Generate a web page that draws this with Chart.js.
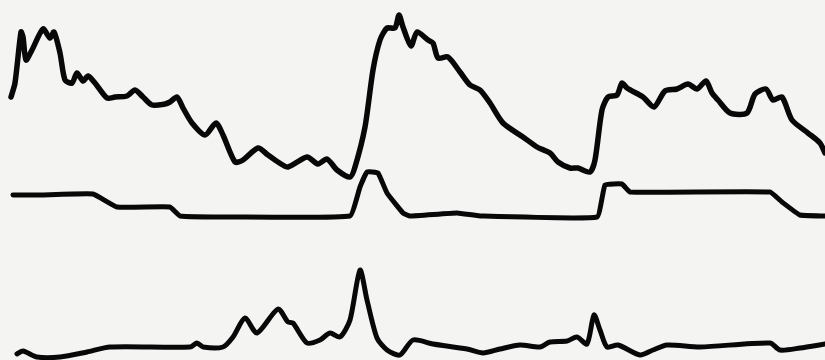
<!DOCTYPE html>
<html>
<head>
<meta charset="utf-8">
<script src="https://cdn.jsdelivr.net/npm/chart.js@4/dist/chart.umd.min.js"></script>
<style>
  html, body { margin: 0; padding: 0; background: #f4f4f3; }
  #wrap { width: 825px; height: 360px; }
</style>
</head>
<body>
<div id="wrap"><canvas id="c" width="825" height="360"></canvas></div>
<script>
// Trace positions along the strip (x) and deflection measured downward from the top edge (y)
const topX = [11,15,21,23,26,32,43,50,54,60,65,72,77,83,88,95,107,115,127,135,143,152,165,170,177,183,192,205,216,223,235,243,258,268,278,288,307,318,327,337,350,355,365,373,380,387,395,399,403,411,417,428,433,438,448,460,470,480,490,503,523,537,550,558,570,578,590,595,602,608,617,622,627,643,654,665,677,688,697,706,712,718,730,747,755,766,773,782,792,808,820,825];
const topY = [97,83,32,37,60,50,29,38,32,53,80,83,73,81,76,83,98,97,96,90,97,105,104,102,97,108,123,135,123,135,162,160,148,155,162,167,157,164,159,170,177,167,127,70,40,28,28,15,27,46,32,40,43,58,57,72,85,90,103,123,137,147,153,162,168,168,172,160,110,97,95,83,88,97,107,91,89,84,89,81,93,100,113,113,94,89,100,97,120,133,143,153];

const midX = [13,40,93,117,170,180,233,350,360,367,378,387,403,410,457,480,597,605,622,630,770,782,800,825];
const midY = [195,195,194,207,207,216,217,216,187,172,173,193,213,216,213,216,217,185,184,192,192,202,215,216];

const botX = [17,23,37,60,87,110,190,197,203,223,233,245,257,278,288,293,307,320,330,340,350,360,367,377,387,400,413,433,467,483,500,520,540,550,567,577,587,594,600,607,618,640,653,667,700,770,780,800,825];
const botY = [354,351,357,357,352,347,347,343,347,347,337,318,333,309,322,323,343,340,333,337,320,270,300,338,350,355,340,344,349,353,349,345,347,342,341,337,344,315,330,347,345,355,350,345,347,343,350,348,344];

function pts(xs, ys) { return xs.map((x, i) => ({ x: x, y: ys[i] })); }

const lineStyle = {
  borderColor: '#080808',
  borderJoinStyle: 'round',
  borderCapStyle: 'round',
  pointRadius: 0,
  tension: 0.25,
  fill: false
};

new Chart(document.getElementById('c'), {
  type: 'line',
  data: {
    datasets: [
      Object.assign({ label: 'upper', data: pts(topX, topY), borderWidth: 5.5 }, lineStyle),
      Object.assign({ label: 'middle', data: pts(midX, midY), borderWidth: 5 }, lineStyle, { tension: 0.1 }),
      Object.assign({ label: 'lower', data: pts(botX, botY), borderWidth: 5 }, lineStyle)
    ]
  },
  options: {
    responsive: false,
    animation: false,
    layout: { padding: 0 },
    plugins: { legend: { display: false }, tooltip: { enabled: false } },
    scales: {
      x: { type: 'linear', min: 0, max: 825, display: false },
      y: { type: 'linear', min: 0, max: 360, reverse: true, display: false }
    }
  }
});
</script>
</body>
</html>
